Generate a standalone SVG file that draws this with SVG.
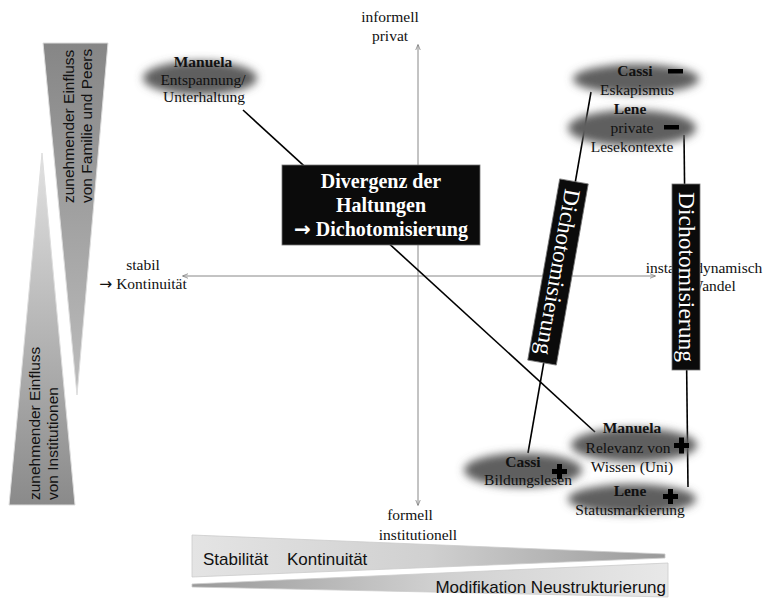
<svg xmlns="http://www.w3.org/2000/svg" width="765" height="604" viewBox="0 0 765 604">
<defs>
<style>
.serif{font-family:"Liberation Serif","Times New Roman",serif;font-size:15.5px;fill:#111;}
.b{font-weight:bold;}
.sans{font-family:"Liberation Sans",Arial,sans-serif;font-size:15.5px;fill:#111;}
.sans17{font-family:"Liberation Sans",Arial,sans-serif;font-size:17px;fill:#111;}
.arr{font-family:"DejaVu Sans",sans-serif;}
.ax{stroke:#888;stroke-width:1;fill:none;}
.con{stroke:#000;stroke-width:1.6;fill:none;}
.blob{fill:#5e5e5e;filter:url(#blur);}
.box{fill:#0b0b0b;stroke:#777;stroke-width:0.8;}
.wt{font-family:"Liberation Serif","Times New Roman",serif;fill:#fff;}
.sym{fill:#000;}
</style>
<filter id="blur" x="-40%" y="-80%" width="180%" height="260%"><feGaussianBlur stdDeviation="4.5"/></filter>
<linearGradient id="gTop" x1="0" y1="0" x2="0" y2="1"><stop offset="0" stop-color="#868686"/><stop offset="1" stop-color="#bdbdbd"/></linearGradient>
<linearGradient id="gBot" x1="0" y1="0" x2="0" y2="1"><stop offset="0" stop-color="#e2e2e2"/><stop offset="1" stop-color="#8a8a8a"/></linearGradient>
<linearGradient id="gUp" x1="0" y1="0" x2="1" y2="0"><stop offset="0" stop-color="#e4e4e4"/><stop offset="0.5" stop-color="#d0d0d0"/><stop offset="1" stop-color="#9a9a9a"/></linearGradient>
<linearGradient id="gLo" x1="0" y1="0" x2="1" y2="0"><stop offset="0" stop-color="#999"/><stop offset="0.5" stop-color="#cfcfcf"/><stop offset="1" stop-color="#e8e8e8"/></linearGradient>
<marker id="ah" viewBox="0 0 10 10" refX="9" refY="5" markerWidth="6" markerHeight="6" orient="auto-start-reverse"><path d="M0,1 L10,5 L0,9" fill="none" stroke="#777" stroke-width="1.2"/></marker>
</defs>

<g id="influence-family">
<polygon points="43,43 108,43 77,395" fill="url(#gTop)" stroke="#ddd" stroke-width="1"/>
<text class="sans" transform="translate(74,203) rotate(-90)">zunehmender Einfluss</text>
<text class="sans" transform="translate(92,203) rotate(-90)">von Familie und Peers</text>
</g>
<g id="influence-institutions">
<polygon points="42,153 75,505 9,505" fill="url(#gBot)" stroke="#ddd" stroke-width="1"/>
<text class="sans" transform="translate(40,500) rotate(-90)">zunehmender Einfluss</text>
<text class="sans" transform="translate(58,500) rotate(-90)">von Institutionen</text>
</g>

<g id="axes">
<line class="ax" x1="418" y1="505" x2="418" y2="45" marker-end="url(#ah)" marker-start="url(#ah)"/>
<line class="ax" x1="655" y1="276" x2="183" y2="276" marker-end="url(#ah)" marker-start="url(#ah)"/>
<text class="serif" x="390" y="22" text-anchor="middle">informell</text>
<text class="serif" x="390" y="41" text-anchor="middle">privat</text>
<text class="serif" x="410" y="520" text-anchor="middle">formell</text>
<text class="serif" x="418" y="540" text-anchor="middle">institutionell</text>
<text class="serif" x="143" y="270" text-anchor="middle">stabil</text>
<text class="serif" x="143" y="289" text-anchor="middle"><tspan class="arr">→</tspan> Kontinuität</text>
<text class="serif" x="704" y="273" text-anchor="middle">instabil dynamisch</text>
<text class="serif" x="704" y="291" text-anchor="middle"><tspan class="arr">→</tspan> Wandel</text>
</g>

<g id="scale-bottom">
<polygon points="192,535 665,554 665,558 192,577" fill="url(#gUp)" stroke="#ccc" stroke-width="0.8"/>
<polygon points="192,584 668,563 668,597 192,587" fill="url(#gLo)" stroke="#ccc" stroke-width="0.8"/>
<text class="sans17" x="203" y="565">Stabilität</text>
<text class="sans17" x="287" y="565">Kontinuität</text>
<text class="sans17" x="666" y="593" text-anchor="end">Modifikation Neustrukturierung</text>
</g>

<g id="connectors">
<line class="con" x1="243" y1="110" x2="595" y2="432"/>
<line class="con" x1="591" y1="92" x2="528" y2="453"/>
<line class="con" x1="684" y1="135" x2="688" y2="487"/>
</g>

<g id="manuela-top">
<ellipse class="blob" cx="200" cy="78" rx="57" ry="17"/>
<text class="serif b" x="203" y="67" text-anchor="middle">Manuela</text>
<text class="serif" x="203" y="85" text-anchor="middle">Entspannung/</text>
<text class="serif" x="204" y="102" text-anchor="middle">Unterhaltung</text>
</g>

<g id="cassi-top">
<ellipse class="blob" cx="636" cy="79" rx="63" ry="15"/>
<text class="serif b" x="635" y="76" text-anchor="middle">Cassi</text>
<text class="serif" x="637" y="95" text-anchor="middle">Eskapismus</text>
<rect class="sym" x="668" y="69" width="15" height="4.5"/>
</g>

<g id="lene-top">
<ellipse class="blob" cx="632" cy="128" rx="64" ry="18"/>
<text class="serif b" x="630" y="114" text-anchor="middle">Lene</text>
<text class="serif" x="632" y="133" text-anchor="middle">private</text>
<text class="serif" x="632" y="152" text-anchor="middle">Lesekontexte</text>
<rect class="sym" x="664" y="125" width="15" height="4.5"/>
</g>

<g id="divergenz">
<rect class="box" x="282" y="165" width="198" height="80"/>
<text class="wt b" x="381" y="188" text-anchor="middle" font-size="20">Divergenz der</text>
<text class="wt b" x="381" y="212" text-anchor="middle" font-size="20">Haltungen</text>
<text class="wt b" x="381" y="236" text-anchor="middle" font-size="20"><tspan class="arr">→</tspan> Dichotomisierung</text>
</g>

<g id="dicho-1" transform="translate(558,272) rotate(10)">
<rect class="box" x="-14.5" y="-92" width="29" height="184"/>
<text class="wt" transform="rotate(90)" x="0" y="7.5" text-anchor="middle" font-size="23" textLength="168" lengthAdjust="spacingAndGlyphs">Dichotomisierung</text>
</g>

<g id="dicho-2" transform="translate(686,277)">
<rect class="box" x="-14" y="-93" width="28" height="186"/>
<text class="wt" transform="rotate(90)" x="0" y="7.5" text-anchor="middle" font-size="23" textLength="170" lengthAdjust="spacingAndGlyphs">Dichotomisierung</text>
</g>

<g id="manuela-bottom">
<ellipse class="blob" cx="634" cy="445" rx="63" ry="17"/>
<text class="serif b" x="632" y="433" text-anchor="middle">Manuela</text>
<text class="serif" x="628" y="453" text-anchor="middle">Relevanz von</text>
<text class="serif" x="632" y="472" text-anchor="middle">Wissen (Uni)</text>
<rect class="sym" x="674" y="443" width="15" height="5"/>
<rect class="sym" x="679" y="437.5" width="5" height="16"/>
</g>

<g id="cassi-bottom">
<ellipse class="blob" cx="523" cy="470" rx="59" ry="17"/>
<text class="serif b" x="523" y="467" text-anchor="middle">Cassi</text>
<text class="serif" x="528" y="485" text-anchor="middle">Bildungslesen</text>
<rect class="sym" x="552" y="469" width="15" height="5"/>
<rect class="sym" x="557" y="464" width="5" height="15"/>
</g>

<g id="lene-bottom">
<ellipse class="blob" cx="632" cy="499" rx="64" ry="15"/>
<text class="serif b" x="630" y="496" text-anchor="middle">Lene</text>
<text class="serif" x="630" y="515" text-anchor="middle">Statusmarkierung</text>
<rect class="sym" x="663" y="494" width="15" height="5"/>
<rect class="sym" x="668" y="489" width="5" height="15"/>
</g>
</svg>
